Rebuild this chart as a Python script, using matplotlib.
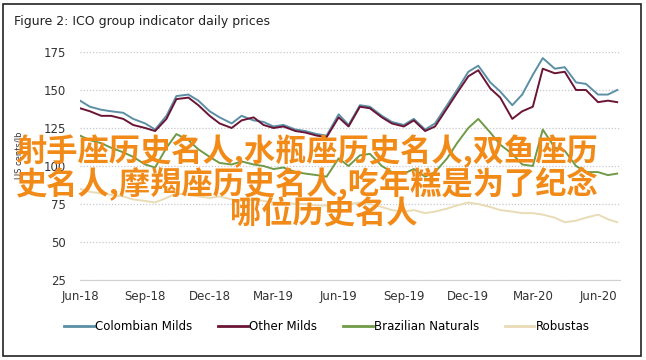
import numpy as np
import pandas as pd
import matplotlib
matplotlib.use("Agg")
import matplotlib.pyplot as plt
import matplotlib.dates as mdates
from matplotlib.patches import Rectangle

# half-monthly readings, Jun-2018 .. Jun-2020
dates = pd.to_datetime([
    "2018-06-01", "2018-06-15", "2018-07-01", "2018-07-15", "2018-08-01", "2018-08-15",
    "2018-09-01", "2018-09-15", "2018-10-01", "2018-10-15", "2018-11-01", "2018-11-15",
    "2018-12-01", "2018-12-15", "2019-01-01", "2019-01-15", "2019-02-01", "2019-02-15",
    "2019-03-01", "2019-03-15", "2019-04-01", "2019-04-15", "2019-05-01", "2019-05-15",
    "2019-06-01", "2019-06-15", "2019-07-01", "2019-07-15", "2019-08-01", "2019-08-15",
    "2019-09-01", "2019-09-15", "2019-10-01", "2019-10-15", "2019-11-01", "2019-11-15",
    "2019-12-01", "2019-12-15", "2020-01-01", "2020-01-15", "2020-02-01", "2020-02-15",
    "2020-03-01", "2020-03-15", "2020-04-01", "2020-04-15", "2020-05-01", "2020-05-15",
    "2020-06-01", "2020-06-15", "2020-06-28"])

colombian = [143, 139, 137, 136, 135, 131, 128, 124, 133, 146, 147, 143,
             136, 132, 128, 133, 130, 129, 126, 127, 124, 123, 121, 120,
             134, 127, 140, 139, 133, 129, 127, 131, 124, 128, 140, 150,
             162, 166, 155, 149, 140, 147, 160, 171, 164, 165, 155, 154,
             147, 147, 150]
other = [138, 136, 133, 133, 131, 127, 125, 123, 131, 144, 145, 140,
         133, 128, 125, 130, 132, 127, 125, 126, 123, 122, 120, 119,
         132, 126, 139, 138, 132, 128, 126, 130, 123, 126, 138, 148,
         159, 163, 151, 145, 131, 136, 139, 164, 161, 162, 150, 150,
         142, 143, 142]
brazilian = [120, 117, 115, 112, 109, 106, 101, 99, 112, 121, 117, 111,
             106, 102, 101, 103, 101, 100, 98, 99, 96, 95, 94, 93,
             105, 100, 107, 108, 100, 96, 95, 98, 93, 96, 105, 115,
             125, 131, 122, 114, 108, 101, 100, 124, 112, 110, 100, 96,
             96, 94, 95]
robustas = [85, 83, 82, 81, 80, 78, 77, 76, 79, 82, 81, 80,
            79, 80, 78, 77, 78, 77, 76, 76, 75, 75, 74, 74,
            76, 75, 76, 75, 73, 71, 70, 71, 69, 70, 72, 74,
            76, 75, 73, 71, 70, 69, 69, 68, 66, 63, 64, 66,
            68, 65, 63]

series = [("Colombian Milds", colombian, "#5b8fa6"),
          ("Other Milds", other, "#6a1535"),
          ("Brazilian Naturals", brazilian, "#6f9a48"),
          ("Robustas", robustas, "#e9dbb6")]

fig = plt.figure(figsize=(6.46, 3.6), dpi=100)
fig.patches.append(Rectangle((3 / 646, 4 / 360), 638 / 646, 352 / 360,
                             transform=fig.transFigure, fill=False,
                             edgecolor="#222222", linewidth=1.2))

ax = fig.add_axes([80 / 646, 1 - 280 / 360, 540 / 646, 228 / 360])
for name, vals, col in series:
    ax.plot(dates, vals, color=col, lw=1.4, label=name)

ax.set_ylim(25, 175)
ax.set_yticks([25, 50, 75, 100, 125, 150, 175])
ax.set_xlim(pd.Timestamp("2018-06-01"), pd.Timestamp("2020-07-02"))
ax.xaxis.set_major_locator(mdates.MonthLocator(bymonth=[3, 6, 9, 12]))
ax.xaxis.set_major_formatter(mdates.DateFormatter("%b-%y"))
ax.grid(axis="y", linestyle=(0, (1, 1.5)), color="#c8c8d0", lw=0.9)
ax.set_axisbelow(True)
for s in ["top", "right", "left"]:
    ax.spines[s].set_visible(False)
ax.spines["bottom"].set_color("#d0d0d0")
ax.tick_params(length=0, labelsize=8.5, colors="#333333", pad=7)
ax.tick_params(axis="y", pad=10)

fig.text(14 / 646, 1 - 22 / 360, "Figure 2: ICO group indicator daily prices",
         fontsize=9, color="#222222", va="center", ha="left")
fig.text(19 / 646, 1 - 155 / 360, "US cents/lb", rotation=90, fontsize=6,
         color="#333333", ha="center", va="center")

leg = fig.legend(loc="center", bbox_to_anchor=(327 / 646, 1 - 327 / 360), ncol=4,
                 frameon=False, fontsize=8.5, handlelength=2.5, handletextpad=0.1,
                 columnspacing=2.2)
for h in leg.get_lines():
    h.set_linewidth(2)

# orange overlay caption
cjk = ["Noto Sans CJK SC", "DejaVu Sans"]
orange = "#f28a18"
fig.text(15 / 646, 1 - 151 / 360, "射手座历史名人,水瓶座历史名人,双鱼座历",
         family=cjk, fontsize=22.5, fontweight="bold", color=orange,
         ha="left", va="center")
fig.text(15 / 646, 1 - 184 / 360, "史名人,摩羯座历史名人,吃年糕是为了纪念",
         family=cjk, fontsize=22.5, fontweight="bold", color=orange,
         ha="left", va="center")
fig.text(324 / 646, 1 - 214 / 360, "哪位历史名人",
         family=cjk, fontsize=22.5, fontweight="bold", color=orange,
         ha="center", va="center")

fig.savefig("out.png", dpi=100)
